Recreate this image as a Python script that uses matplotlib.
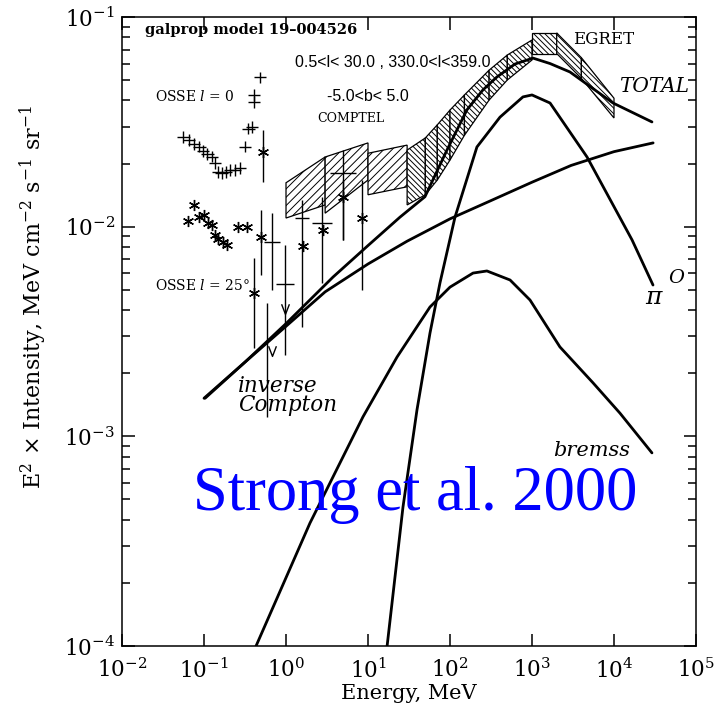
import numpy as np
import matplotlib
matplotlib.use("Agg")
import matplotlib.pyplot as plt
from matplotlib.path import Path
from matplotlib.ticker import LogLocator, NullLocator, LogFormatterMathtext

plt.rcParams['font.family'] = ['DejaVu Serif']
plt.rcParams['mathtext.fontset'] = 'dejavuserif'
plt.rcParams['hatch.linewidth'] = 0.7

# model components (E in MeV, E^2 x intensity)
ic_E = [0.1, 0.3, 1, 3, 10, 30, 100, 300, 1000, 3000, 1e4, 3e4]
ic_I = [1.52e-3, 2.22e-3, 3.35e-3, 4.89e-3, 6.64e-3, 8.53e-3, 1.09e-2,
        1.32e-2, 1.63e-2, 1.96e-2, 2.28e-2, 2.51e-2]

total_E = [0.103, 0.316, 1, 3.74, 10, 24.5, 49.5, 91.8, 161, 252, 374,
           621, 1028, 1660, 2904, 9727, 29040]
total_I = [1.52e-3, 2.26e-3, 3.45e-3, 5.75e-3, 8.13e-3, 1.11e-2, 1.39e-2,
           2.32e-2, 3.61e-2, 4.49e-2, 5.18e-2, 5.97e-2, 6.37e-2, 6.0e-2,
           5.47e-2, 3.89e-2, 3.16e-2]

pi0_E = [17.1, 26.7, 39.6, 57.0, 75.5, 115, 213, 407, 776, 1000, 1660,
         4690, 16600, 29900]
pi0_I = [1.0e-4, 4.60e-4, 1.34e-3, 3.11e-3, 5.40e-3, 1.11e-2, 2.40e-2,
         3.33e-2, 4.16e-2, 4.25e-2, 3.89e-2, 2.15e-2, 8.65e-3, 5.27e-3]

brem_E = [0.431, 1.96, 8.69, 22.6, 57.0, 100, 191, 282, 540, 946, 2190,
          5550, 11830, 29040]
brem_I = [1.0e-4, 3.86e-4, 1.24e-3, 2.39e-3, 4.14e-3, 5.15e-3, 6.01e-3,
          6.15e-3, 5.57e-3, 4.47e-3, 2.67e-3, 1.80e-3, 1.29e-3, 8.34e-4]

# COMPTEL boxes: energy bin and flux range at the bin edges
comptel_elo = [1, 3, 10]
comptel_ehi = [3, 10, 30]
comptel_lo_left = [1.10e-2, 1.16e-2, 1.42e-2]
comptel_hi_left = [1.62e-2, 2.15e-2, 2.24e-2]
comptel_lo_right = [1.27e-2, 1.67e-2, 1.55e-2]
comptel_hi_right = [2.15e-2, 2.51e-2, 2.45e-2]

# EGRET boxes
egret_elo = [30, 50, 70, 100, 150, 300, 500, 1000, 2000, 4000]
egret_ehi = [50, 70, 100, 150, 300, 500, 1000, 2000, 4000, 10000]
egret_lo_left = [1.27e-2, 1.42e-2, 1.67e-2, 2.08e-2, 2.73e-2, 4.02e-2,
                 5.01e-2, 6.7e-2, 6.7e-2, 5.1e-2]
egret_hi_left = [2.32e-2, 2.65e-2, 3.06e-2, 3.6e-2, 4.25e-2, 5.58e-2,
                 6.59e-2, 8.4e-2, 8.4e-2, 6.4e-2]
egret_lo_right = [1.42e-2, 1.67e-2, 2.08e-2, 2.73e-2, 4.02e-2, 5.01e-2,
                  6.24e-2, 6.7e-2, 5.1e-2, 3.3e-2]
egret_hi_right = [2.65e-2, 3.06e-2, 3.6e-2, 4.25e-2, 5.58e-2, 6.59e-2,
                  7.77e-2, 8.4e-2, 6.4e-2, 4.1e-2]

# OSSE l=0 spectrum
osse0_E = [0.056, 0.066, 0.076, 0.088, 0.098, 0.110, 0.124, 0.136, 0.150,
           0.164, 0.185, 0.207, 0.239, 0.275, 0.316, 0.348, 0.382, 0.407,
           0.407, 0.482]
osse0_I = [2.67e-2, 2.59e-2, 2.48e-2, 2.41e-2, 2.30e-2, 2.22e-2, 2.16e-2,
           2.02e-2, 1.83e-2, 1.80e-2, 1.83e-2, 1.86e-2, 1.87e-2, 1.90e-2,
           2.41e-2, 2.94e-2, 2.98e-2, 3.94e-2, 4.25e-2, 5.15e-2]
osse0_dlogE = 0.075
osse0_dlogI = 0.028

# OSSE l=25 spectrum
osse25_E = [0.063, 0.076, 0.088, 0.100, 0.113, 0.124, 0.136, 0.150, 0.169,
            0.192, 0.262, 0.331]
osse25_I = [1.07e-2, 1.27e-2, 1.11e-2, 1.14e-2, 1.04e-2, 1.02e-2, 9.1e-3,
            8.7e-3, 8.5e-3, 8.2e-3, 1.0e-2, 1.0e-2]

# COMPTEL / OSSE points with energy bins
pts_E = [1.55, 2.72, 5.0, 0.68, 0.97]
pts_I = [1.10e-2, 1.04e-2, 1.80e-2, 8.43e-3, 5.31e-3]
pts_Elo = [1.27, 2.06, 3.47, 0.54, 0.75]
pts_Ehi = [1.89, 3.60, 7.2, 0.85, 1.25]
pts_Ilo = [3.33e-3, 5.40e-3, 8.65e-3, 4.99e-3, 2.44e-3]
pts_Ihi = [1.34e-2, 1.39e-2, 2.32e-2, 1.16e-2, 8.18e-3]

# asterisk points with vertical error bars
ast_E = [0.53, 0.41, 0.49, 1.60, 2.80, 4.91, 8.38]
ast_I = [2.28e-2, 4.81e-3, 8.95e-3, 8.09e-3, 9.64e-3, 1.39e-2, 1.10e-2]
ast_Ilo = [1.63e-2, 2.64e-3, 5.89e-3, 8.09e-3, 9.64e-3, 8.65e-3, 4.99e-3]
ast_Ihi = [2.89e-2, 7.10e-3, 1.20e-2, 8.09e-3, 9.64e-3, 1.67e-2, 1.67e-2]

# bare bars and upper limits
bar_E = [0.58]
bar_Ilo = [1.24e-3]
bar_Ihi = [4.33e-3]
ul_E = [0.68, 0.97]
ul_I = [2.52e-3, 4.01e-3]


fig = plt.figure(figsize=(7.19, 7.10), dpi=100)
ax = fig.add_axes([0.1697, 0.0901, 0.7983, 0.8859])
ax.set_xscale('log')
ax.set_yscale('log')
ax.set_xlim(1e-2, 1e5)
ax.set_ylim(1e-4, 1e-1)

# hatched data boxes
for i in range(len(comptel_elo)):
    ax.fill([comptel_elo[i], comptel_ehi[i], comptel_ehi[i], comptel_elo[i]],
            [comptel_lo_left[i], comptel_lo_right[i], comptel_hi_right[i],
             comptel_hi_left[i]],
            facecolor='white', edgecolor='k', hatch='////', lw=0.9, zorder=2)
for i in range(len(egret_elo)):
    ax.fill([egret_elo[i], egret_ehi[i], egret_ehi[i], egret_elo[i]],
            [egret_lo_left[i], egret_lo_right[i], egret_hi_right[i],
             egret_hi_left[i]],
            facecolor='white', edgecolor='k', hatch='\\' * 6, lw=0.9, zorder=2)

# model curves
for E, I in [(ic_E, ic_I), (total_E, total_I), (pi0_E, pi0_I),
             (brem_E, brem_I)]:
    ax.plot(E, I, color='k', lw=2.0, zorder=4, solid_capstyle='round')

# OSSE crosses
E0 = np.array(osse0_E)
I0 = np.array(osse0_I)
fE = 10**osse0_dlogE
fI = 10**osse0_dlogI
ax.errorbar(E0, I0, xerr=[E0 - E0/fE, E0*fE - E0],
            yerr=[I0 - I0/fI, I0*fI - I0],
            fmt='none', ecolor='k', elinewidth=1.0, capsize=0, zorder=3)

ax.plot(osse25_E, osse25_I, ls='none', marker=(6, 2, 0), ms=8,
        mec='k', mew=1.0, zorder=3)

pE = np.array(pts_E)
pI = np.array(pts_I)
ax.errorbar(pE, pI, xerr=[pE - np.array(pts_Elo), np.array(pts_Ehi) - pE],
            yerr=[pI - np.array(pts_Ilo), np.array(pts_Ihi) - pI],
            fmt='none', ecolor='k', elinewidth=1.0, capsize=0, zorder=3)

aE = np.array(ast_E)
aI = np.array(ast_I)
ax.errorbar(aE, aI, yerr=[aI - np.array(ast_Ilo), np.array(ast_Ihi) - aI],
            fmt='none', ecolor='k', elinewidth=1.0, capsize=0, zorder=3)
ax.plot(aE, aI, ls='none', marker=(6, 2, 0), ms=8, mec='k', mew=1.0,
        zorder=3)

ax.vlines(bar_E, bar_Ilo, bar_Ihi, color='k', lw=1.0, zorder=3)
vee = Path([(-1, 1.6), (0, -1), (1, 1.6)])
ax.plot(ul_E, ul_I, ls='none', marker=vee, ms=9, mfc='none', mec='k',
        mew=1.0, zorder=3)

# axes styling
ax.xaxis.set_major_locator(LogLocator(base=10, numticks=20))
ax.xaxis.set_minor_locator(NullLocator())
ax.yaxis.set_major_locator(LogLocator(base=10, numticks=20))
ax.yaxis.set_minor_locator(LogLocator(base=10, subs=np.arange(2, 10),
                                      numticks=20))
ax.xaxis.set_major_formatter(LogFormatterMathtext())
ax.yaxis.set_major_formatter(LogFormatterMathtext())
ax.tick_params(which='both', direction='in', top=True, right=True,
               width=1.1, labelsize=15.5)
ax.tick_params(which='major', length=9)
ax.tick_params(which='minor', length=5.5)
ax.tick_params(axis='x', pad=9)
ax.tick_params(axis='y', pad=5)
for s in ax.spines.values():
    s.set_linewidth(1.1)

ax.set_xlabel('Energy, MeV', fontsize=15, labelpad=1)
ax.set_ylabel(r'E$^{2}$ $\times$ Intensity, MeV cm$^{-2}$ s$^{-1}$ sr$^{-1}$',
              fontsize=16)
ax.yaxis.set_label_coords(-0.128, 0.555)

# annotations
ax.text(0.019, 0.0867, 'galprop model 19\u2013004526', fontsize=10.5,
        fontweight='bold', va='center', ha='left')
ax.text(1.29, 0.061, '0.5<l< 30.0 , 330.0<l<359.0', fontsize=11.5,
        family='Liberation Sans', va='center', ha='left')
ax.text(0.0252, 0.0416, r'OSSE $\mathit{l}$ = $\mathit{0}$', fontsize=10,
        va='center', ha='left')
ax.text(3.16, 0.0416, '-5.0<b< 5.0', fontsize=11.5, family='Liberation Sans',
        va='center', ha='left')
ax.text(2.39, 0.0327, 'COMPTEL', fontsize=9, va='center', ha='left')
ax.text(0.0252, 5.27e-3, r'OSSE $\mathit{l}$ = $\mathit{25}$°', fontsize=10,
        va='center', ha='left')
ax.text(0.26, 1.57e-3, 'inverse\nCompton', fontsize=15.5, style='italic',
        va='center', ha='left', linespacing=0.85)
ax.text(3160, 0.0785, 'EGRET', fontsize=12, va='center', ha='left')
ax.text(11500, 0.0464, 'TOTAL', fontsize=14.5, style='italic',
        va='center', ha='left')
ax.text(23900, 4.62e-3, r'$\pi$', fontsize=18, va='center', ha='left')
ax.text(45600, 5.69e-3, 'O', fontsize=14, style='italic',
        va='center', ha='left')
ax.text(1800, 8.6e-4, 'bremss', fontsize=15, style='italic',
        va='center', ha='left')
ax.text(37.4, 5.26e-4, 'Strong et al. 2000', fontsize=45, color='#0000ff',
        family='Liberation Serif', va='center', ha='center', zorder=6)

fig.savefig('out.png', dpi=100)
